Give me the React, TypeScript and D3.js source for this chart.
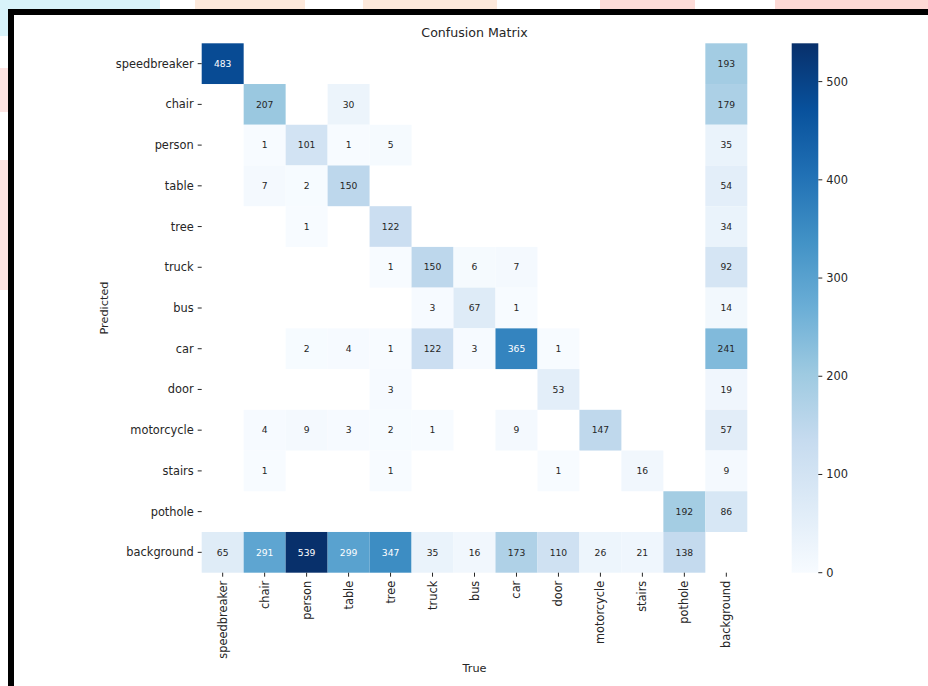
import * as d3 from "d3";

// class names (same order for predicted rows and true columns)
const labels = [
  "speedbreaker",
  "chair",
  "person",
  "table",
  "tree",
  "truck",
  "bus",
  "car",
  "door",
  "motorcycle",
  "stairs",
  "pothole",
  "background",
];

// one row per predicted class, columns follow `labels` (0 = empty cell)
const rowSpeedbreaker = [483, 0, 0, 0, 0, 0, 0, 0, 0, 0, 0, 0, 193];
const rowChair = [0, 207, 0, 30, 0, 0, 0, 0, 0, 0, 0, 0, 179];
const rowPerson = [0, 1, 101, 1, 5, 0, 0, 0, 0, 0, 0, 0, 35];
const rowTable = [0, 7, 2, 150, 0, 0, 0, 0, 0, 0, 0, 0, 54];
const rowTree = [0, 0, 1, 0, 122, 0, 0, 0, 0, 0, 0, 0, 34];
const rowTruck = [0, 0, 0, 0, 1, 150, 6, 7, 0, 0, 0, 0, 92];
const rowBus = [0, 0, 0, 0, 0, 3, 67, 1, 0, 0, 0, 0, 14];
const rowCar = [0, 0, 2, 4, 1, 122, 3, 365, 1, 0, 0, 0, 241];
const rowDoor = [0, 0, 0, 0, 3, 0, 0, 0, 53, 0, 0, 0, 19];
const rowMotorcycle = [0, 4, 9, 3, 2, 1, 0, 9, 0, 147, 0, 0, 57];
const rowStairs = [0, 1, 0, 0, 1, 0, 0, 0, 1, 0, 16, 0, 9];
const rowPothole = [0, 0, 0, 0, 0, 0, 0, 0, 0, 0, 0, 192, 86];
const rowBackground = [65, 291, 539, 299, 347, 35, 16, 173, 110, 26, 21, 138, 0];

const colorbarTicks = [0, 100, 200, 300, 400, 500];

const rows = [
  rowSpeedbreaker,
  rowChair,
  rowPerson,
  rowTable,
  rowTree,
  rowTruck,
  rowBus,
  rowCar,
  rowDoor,
  rowMotorcycle,
  rowStairs,
  rowPothole,
  rowBackground,
];

const W = 928;
const H = 686;
const FONT = "DejaVu Sans, sans-serif";
const TEXT = "#262626";

// same as matplotlib "Blues": linear between the 9 brewer colours
function makeColor(max: number) {
  const blues = d3.schemeBlues[9];
  return d3
    .scaleLinear<string>()
    .domain(blues.map((_, i) => (i / (blues.length - 1)) * max))
    .range(blues)
    .interpolate(d3.interpolateRgb)
    .clamp(true);
}

// seaborn picks text colour from relative luminance
function luminance(c: string) {
  const { r, g, b } = d3.rgb(c);
  const lin = (v: number) => {
    const s = v / 255;
    return s <= 0.03928 ? s / 12.92 : Math.pow((s + 0.055) / 1.055, 2.4);
  };
  return 0.2126 * lin(r) + 0.7152 * lin(g) + 0.0722 * lin(b);
}

export default function App() {
  const plot = { left: 201.7, right: 747.3, top: 43.3, bottom: 572.7 };
  const bar = { left: 791.7, right: 818.3 };

  const xScale = d3.scaleBand().domain(labels).range([plot.left, plot.right]);
  const yScale = d3.scaleBand().domain(labels).range([plot.top, plot.bottom]);

  const max = d3.max(rows.flat()) ?? 1;
  const color = makeColor(max);
  const cbScale = d3.scaleLinear().domain([0, max]).range([plot.bottom, plot.top]);

  const cells = rows.flatMap((row, ri) =>
    row.map((value, ci) => ({ value, pred: labels[ri], truth: labels[ci] })),
  ).filter((d) => d.value > 0);

  const blues = d3.schemeBlues[9];

  return (
    <svg
      width={W}
      height={H}
      viewBox={`0 0 ${W} ${H}`}
      style={{ position: "absolute", left: 0, top: 0, background: "#fff" }}
    >
      <defs>
        <linearGradient id="cbar" x1="0" y1="1" x2="0" y2="0">
          {blues.map((c, i) => (
            <stop key={i} offset={i / (blues.length - 1)} stopColor={c} />
          ))}
        </linearGradient>
      </defs>

      {/* page behind the screenshot */}
      <rect x={0} y={0} width={160} height={9} fill="#d8f3fa" />
      <rect x={0} y={0} width={8} height={36} fill="#d8f3fa" />
      <rect x={0} y={68} width={8} height={44} fill="#fde4e2" />
      <rect x={0} y={160} width={8} height={130} fill="#fde4e2" />
      <rect x={195} y={0} width={110} height={9} fill="#fde9db" />
      <rect x={363} y={0} width={134} height={9} fill="#fde9db" />
      <rect x={600} y={0} width={95} height={9} fill="#fddcd8" />
      <rect x={775} y={0} width={153} height={9} fill="#fdd9d5" />
      <rect x={8} y={9} width={W - 8} height={6} fill="#000" />
      <rect x={8} y={9} width={6} height={H - 9} fill="#000" />

      <text
        x={(plot.left + plot.right) / 2}
        y={37}
        textAnchor="middle"
        fontFamily={FONT}
        fontSize={12.6}
        fill={TEXT}
      >
        Confusion Matrix
      </text>

      {/* cells */}
      {cells.map((d) => {
        const fill = color(d.value);
        const x = xScale(d.truth) ?? 0;
        const y = yScale(d.pred) ?? 0;
        return (
          <g key={`${d.pred}-${d.truth}`}>
            <rect
              x={x}
              y={y}
              width={xScale.bandwidth()}
              height={yScale.bandwidth()}
              fill={fill}
            />
            <text
              x={x + xScale.bandwidth() / 2}
              y={y + yScale.bandwidth() / 2}
              dy="0.35em"
              textAnchor="middle"
              fontFamily={FONT}
              fontSize={9.2}
              fill={luminance(fill) > 0.408 ? TEXT : "#fff"}
            >
              {d.value}
            </text>
          </g>
        );
      })}

      {/* y axis */}
      {labels.map((name) => {
        const y = (yScale(name) ?? 0) + yScale.bandwidth() / 2;
        return (
          <g key={`y-${name}`}>
            <line x1={plot.left - 4} x2={plot.left} y1={y} y2={y} stroke={TEXT} />
            <text
              x={plot.left - 8}
              y={y}
              dy="0.35em"
              textAnchor="end"
              fontFamily={FONT}
              fontSize={11.4}
              fill={TEXT}
            >
              {name}
            </text>
          </g>
        );
      })}

      {/* x axis */}
      {labels.map((name) => {
        const x = (xScale(name) ?? 0) + xScale.bandwidth() / 2;
        return (
          <g key={`x-${name}`}>
            <line x1={x} x2={x} y1={plot.bottom} y2={plot.bottom + 4} stroke={TEXT} />
            <text
              transform={`translate(${x},${plot.bottom + 8}) rotate(-90)`}
              dy="0.35em"
              textAnchor="end"
              fontFamily={FONT}
              fontSize={11.4}
              fill={TEXT}
            >
              {name}
            </text>
          </g>
        );
      })}

      <text
        transform={`translate(108,${(plot.top + plot.bottom) / 2}) rotate(-90)`}
        textAnchor="middle"
        fontFamily={FONT}
        fontSize={11.3}
        fill={TEXT}
      >
        Predicted
      </text>
      <text
        x={(plot.left + plot.right) / 2}
        y={672}
        textAnchor="middle"
        fontFamily={FONT}
        fontSize={11.3}
        fill={TEXT}
      >
        True
      </text>

      {/* colorbar */}
      <rect
        x={bar.left}
        y={plot.top}
        width={bar.right - bar.left}
        height={plot.bottom - plot.top}
        fill="url(#cbar)"
      />
      {colorbarTicks.map((t) => (
        <g key={`cb-${t}`}>
          <line
            x1={bar.right}
            x2={bar.right + 4}
            y1={cbScale(t)}
            y2={cbScale(t)}
            stroke={TEXT}
          />
          <text
            x={bar.right + 8}
            y={cbScale(t)}
            dy="0.35em"
            fontFamily={FONT}
            fontSize={11.4}
            fill={TEXT}
          >
            {t}
          </text>
        </g>
      ))}
    </svg>
  );
}
